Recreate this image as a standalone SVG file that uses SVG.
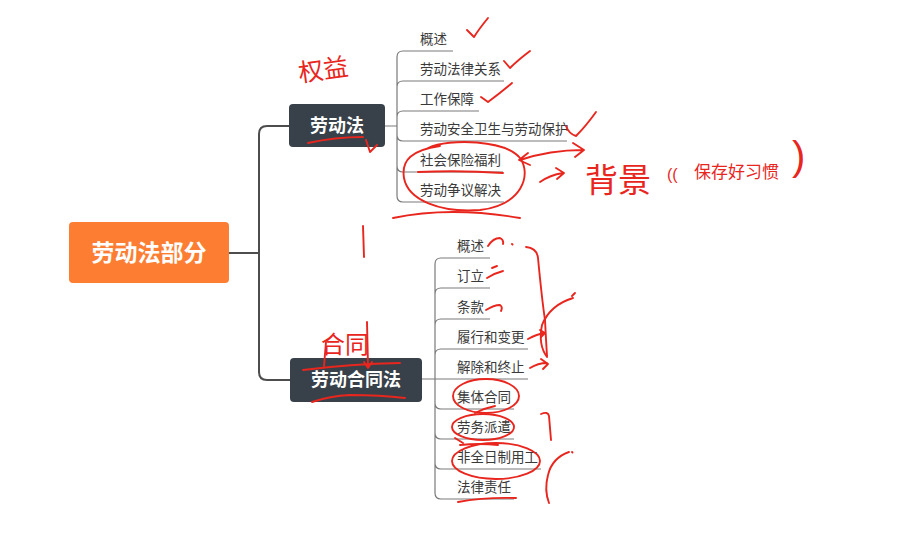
<svg xmlns="http://www.w3.org/2000/svg" width="913" height="545" viewBox="0 0 913 545">
<style>
text{font-family:"Liberation Sans","Noto Sans CJK SC",sans-serif}
.root{fill:#FD7E33}
.topic{fill:#38414a}
.tt{fill:#fff;font-weight:bold;text-anchor:middle;dominant-baseline:central}
.leaf{fill:#3a3a3a;font-size:13.5px}
.main{fill:none;stroke:#4d4d4d;stroke-width:2}
.sub{fill:none;stroke:#7a7a7a;stroke-width:1.2}
.ink{fill:none;stroke:#e8261e;stroke-width:1.9;stroke-linecap:round;stroke-linejoin:round}
.hand{fill:#e8261e}
</style>
<rect width="913" height="545" fill="#fff"/>
<g id="connectors">
<path class="main" d="M229,253 H259 M289,126 H267 Q259,126 259,134 V372 Q259,380 267,380 H290"/>
<path class="sub" d="M385,126 H397 M453,51 H403 Q397,51 397,57 V196 Q397,202 403,202 H504 M504,81 H403 Q397,81 397,87 M479,111 H403 Q397,111 397,117 M397,135 Q397,141 403,141 H567 M397,166 Q397,172 403,172 H503"/>
<path class="sub" d="M422,379 H528 M490,258 H441 Q435,258 435,264 V493 Q435,499 441,499 H514 M490,288 H441 Q435,288 435,294 M490,319 H441 Q435,319 435,325 M528,349 H441 Q435,349 435,355 M435,403 Q435,409 441,409 H514 M435,433 Q435,439 441,439 H514 M435,463 Q435,469 441,469 H541"/>
</g>
<g id="root"><rect class="root" x="69" y="222" width="160" height="61" rx="4"/><text class="tt" x="149" y="253" font-size="23">劳动法部分</text></g>
<g id="laodongfa"><rect class="topic" x="289" y="104" width="96" height="43" rx="4"/><text class="tt" x="337" y="126" font-size="18">劳动法</text></g>
<g id="hetongfa"><rect class="topic" x="290" y="358" width="132" height="44" rx="4"/><text class="tt" x="356" y="380" font-size="18">劳动合同法</text></g>
<g id="ldf-children">
<text class="leaf" x="420" y="44">概述</text>
<text class="leaf" x="420" y="74">劳动法律关系</text>
<text class="leaf" x="420" y="104">工作保障</text>
<text class="leaf" x="420" y="134">劳动安全卫生与劳动保护</text>
<text class="leaf" x="420" y="165">社会保险福利</text>
<text class="leaf" x="420" y="195">劳动争议解决</text>
</g>
<g id="htf-children">
<text class="leaf" x="457" y="251">概述</text>
<text class="leaf" x="457" y="281">订立</text>
<text class="leaf" x="457" y="312">条款</text>
<text class="leaf" x="457" y="342">履行和变更</text>
<text class="leaf" x="457" y="372">解除和终止</text>
<text class="leaf" x="457" y="402">集体合同</text>
<text class="leaf" x="457" y="432">劳务派遣</text>
<text class="leaf" x="457" y="462">非全日制用工</text>
<text class="leaf" x="457" y="492">法律责任</text>
</g>
<g id="annotations">
<path class="ink" d="M467,30 L474,37 Q479,29 488,18"/>
<path class="ink" d="M504,61 L510,68 Q518,60 530,51"/>
<path class="ink" d="M481,97 L488,102 Q500,93 512,83"/>
<path class="ink" d="M566,126 Q569,134 576,136 Q586,126 596,112"/>
<path class="ink" d="M308,143 Q335,137 363,137"/>
<path class="ink" d="M366,140 L370,152 L377,145"/>
<path class="ink" d="M428,148 C450,138 505,140 520,158 C532,175 522,205 480,210 C440,213 408,200 404,178 C401,160 412,150 440,146"/>
<path class="ink" d="M393,218 Q450,206 520,218"/>
<path class="ink" d="M418,172 Q460,170 503,173"/>
<path class="ink" d="M520,160 Q550,150 583,150 M528,153 L519,160 L530,165 M573,143 L584,150 L575,157"/>
<path class="ink" d="M540,182 Q550,175 563,173 M556,168 L564,173 L557,179"/>
<path class="ink" d="M363,226 L364,257"/>
<path class="ink" d="M326,342 L324,366 M367,322 L368,367 M364,362 L368,368 L372,362"/>
<path class="ink" d="M303,370 Q350,364 400,363"/>
<path class="ink" d="M312,402 Q330,396 350,395 Q380,395 405,398"/>
<path class="ink" d="M488,246 Q493,238 500,238 Q504,240 503,244 M512,244 l0.5,0.5"/>
<path class="ink" d="M487,278 Q495,273 503,271 M492,268 L497,266"/>
<path class="ink" d="M486,310 Q494,305 500,305 Q503,307 501,311"/>
<path class="ink" d="M526,247 Q537,248 538,258 Q542,300 545,320 Q546,340 547,356"/>
<path class="ink" d="M573,298 Q550,305 542,325 Q538,345 547,357 M572,296 L575,293"/>
<path class="ink" d="M528,339 Q537,334 545,333 M540,330 L545,333 L541,337"/>
<path class="ink" d="M530,368 Q538,363 547,363 M541,359 L548,364 L543,369"/>
<ellipse class="ink" cx="486" cy="396" rx="33" ry="17"/>
<path class="ink" d="M475,413 Q485,408 495,406"/>
<ellipse class="ink" cx="483" cy="427" rx="31" ry="13"/>
<path class="ink" d="M455,438 L463,443 M460,445 Q480,443 498,445"/>
<ellipse class="ink" cx="496" cy="461" rx="44" ry="18"/>
<path class="ink" d="M541,414 Q548,411 549,416 L551,440"/>
<path class="ink" d="M569,452 Q552,458 548,475 Q544,490 549,503 M572,452 l0.5,0.5"/>
<path class="ink" d="M458,502 Q485,497 516,498"/>
<text class="hand" x="298" y="79" font-size="25" transform="rotate(-8 320 68)">权益</text>
<text class="hand" x="321" y="353" font-size="24">合同</text>
<text class="hand" x="585" y="192" font-size="33">背景</text>
<text class="hand" x="667" y="180" font-size="16">((</text>
<text class="hand" x="694" y="178" font-size="17">保存好习惯</text>
<text class="hand" x="792" y="170" font-size="40">)</text>
</g>
</svg>
